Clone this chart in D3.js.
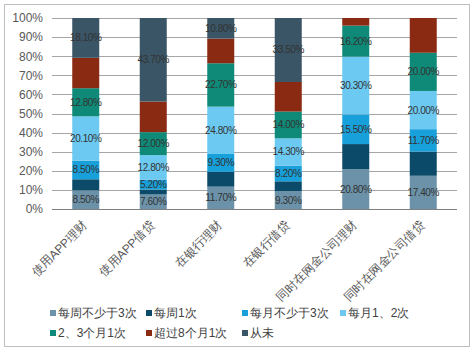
<!DOCTYPE html>
<html>
<head>
<meta charset="utf-8">
<script src="https://cdn.jsdelivr.net/npm/d3@7"></script>
<style>
  body { margin: 0; background: #fff; }
  text { font-family: "Liberation Sans", Arial, sans-serif; }
</style>
</head>
<body>
<svg width="474" height="352"></svg>
<script>
const categories = ['使用APP理财', '使用APP借贷', '在银行理财', '在银行借贷', '同时在网金公司理财', '同时在网金公司借贷'];
const seriesNames = ['每周不少于3次', '每周1次', '每月不少于3次', '每月1、2次', '2、3个月1次', '超过8个月1次', '从未'];
// one array per series, same order as categories
const weekly3 = [8.5, 7.6, 11.7, 9.3, 20.8, 17.4];
const weekly1 = [5.0, 2.6, 7.8, 5.2, 13.2, 12.7];
const monthly3 = [8.5, 5.2, 9.3, 8.2, 15.5, 11.7];
const monthly12 = [20.1, 12.8, 24.8, 14.3, 30.3, 20.0];
const quarterly = [12.8, 12.0, 22.7, 14.0, 16.2, 20.0];
const over8months = [13.8, 16.0, 12.9, 15.5, 4.0, 18.2];
const never = [18.1, 43.7, 10.8, 33.5, 0, 0];
const yTicks = [0, 0.1, 0.2, 0.3, 0.4, 0.5, 0.6, 0.7, 0.8, 0.9, 1];
// which series get value labels
const labelled = [true, false, true, true, true, false, true];

const colors = ['#6b92a8', '#0b4a69', '#17a0da', '#6ccaf2', '#0f8a78', '#8b2a12', '#3a5566'];

const svg = d3.select('svg');
const width = +svg.attr('width');
const height = +svg.attr('height');

// outer frame
svg.append('rect')
    .attr('x', 4.5).attr('y', 4.5)
    .attr('width', 465).attr('height', 342)
    .attr('fill', '#fff')
    .attr('stroke', '#bfbfbf');

const margin = { left: 52, right: 17, top: 18, bottom: 143 };
const plotW = width - margin.left - margin.right;
const plotH = height - margin.top - margin.bottom;

const g = svg.append('g').attr('transform', `translate(${margin.left}, ${margin.top})`);

const seriesData = [weekly3, weekly1, monthly3, monthly12, quarterly, over8months, never];
const rows = categories.map((c, i) => {
    const row = { cat: c };
    seriesNames.forEach((s, j) => { row[s] = seriesData[j][i]; });
    return row;
});

const stacked = d3.stack().keys(seriesNames).offset(d3.stackOffsetExpand)(rows);

const x = d3.scaleBand().domain(categories).range([0, plotW]).paddingInner(0.6).paddingOuter(0.3);
const y = d3.scaleLinear().domain([0, 1]).range([plotH, 0]);

// gridlines
g.append('g')
    .selectAll('line')
    .data(yTicks)
    .join('line')
    .attr('x1', 0).attr('x2', plotW)
    .attr('y1', d => Math.round(y(d)) + 0.5)
    .attr('y2', d => Math.round(y(d)) + 0.5)
    .attr('stroke', d => d === 0 ? '#7f7f7f' : '#a6a6a6')
    .attr('stroke-width', 1);

// y axis labels
const yAxis = g.append('g')
    .call(d3.axisLeft(y).tickValues(yTicks).tickFormat(d3.format('.0%')).tickSize(0).tickPadding(9));
yAxis.select('.domain').remove();
yAxis.selectAll('text').attr('font-size', 12).attr('fill', '#595959')
    .attr('font-family', '"Liberation Sans", Arial, sans-serif');

// bars
const layers = g.append('g').selectAll('g')
    .data(stacked)
    .join('g')
    .attr('fill', (d, i) => colors[i]);

layers.selectAll('rect')
    .data(d => d)
    .join('rect')
    .attr('x', d => x(d.data.cat))
    .attr('width', x.bandwidth())
    .attr('y', d => y(d[1]))
    .attr('height', d => y(d[0]) - y(d[1]));

// value labels
stacked.forEach((layer, i) => {
    if (!labelled[i]) return;
    g.append('g').selectAll('text')
        .data(layer.filter(d => d.data[layer.key] > 0))
        .join('text')
        .attr('x', d => x(d.data.cat) + x.bandwidth() / 2)
        .attr('y', d => (y(d[0]) + y(d[1])) / 2)
        .attr('dy', '0.35em')
        .attr('text-anchor', 'middle')
        .attr('font-size', 10)
        .attr('letter-spacing', -0.4)
        .attr('fill', '#333')
        .text(d => d.data[layer.key].toFixed(2) + '%');
});

// x axis labels (rotated)
const xAxis = g.append('g')
    .attr('transform', `translate(0, ${plotH})`)
    .call(d3.axisBottom(x).tickSize(0).tickPadding(0));
xAxis.select('.domain').remove();
xAxis.selectAll('text')
    .attr('font-size', 12)
    .attr('fill', '#595959')
    .attr('font-family', '"Noto Sans CJK SC", sans-serif')
    .attr('text-anchor', 'end')
    .attr('dy', 0)
    .attr('transform', 'translate(2, 17) rotate(-45)');

// legend
const legendCols = [50, 146, 242, 340];
const legend = svg.append('g');
seriesNames.forEach((name, i) => {
    const col = i < 4 ? i : i - 4;
    const row = i < 4 ? 0 : 1;
    const lx = legendCols[col];
    const ly = 313 + row * 20;
    legend.append('rect')
        .attr('x', lx).attr('y', ly - 3)
        .attr('width', 6).attr('height', 6)
        .attr('fill', colors[i]);
    legend.append('text')
        .attr('x', lx + 8).attr('y', ly)
        .attr('dy', '0.35em')
        .attr('font-size', 12)
        .attr('fill', '#404040')
        .attr('font-family', '"Noto Sans CJK SC", sans-serif')
        .text(name);
});
</script>
</body>
</html>
